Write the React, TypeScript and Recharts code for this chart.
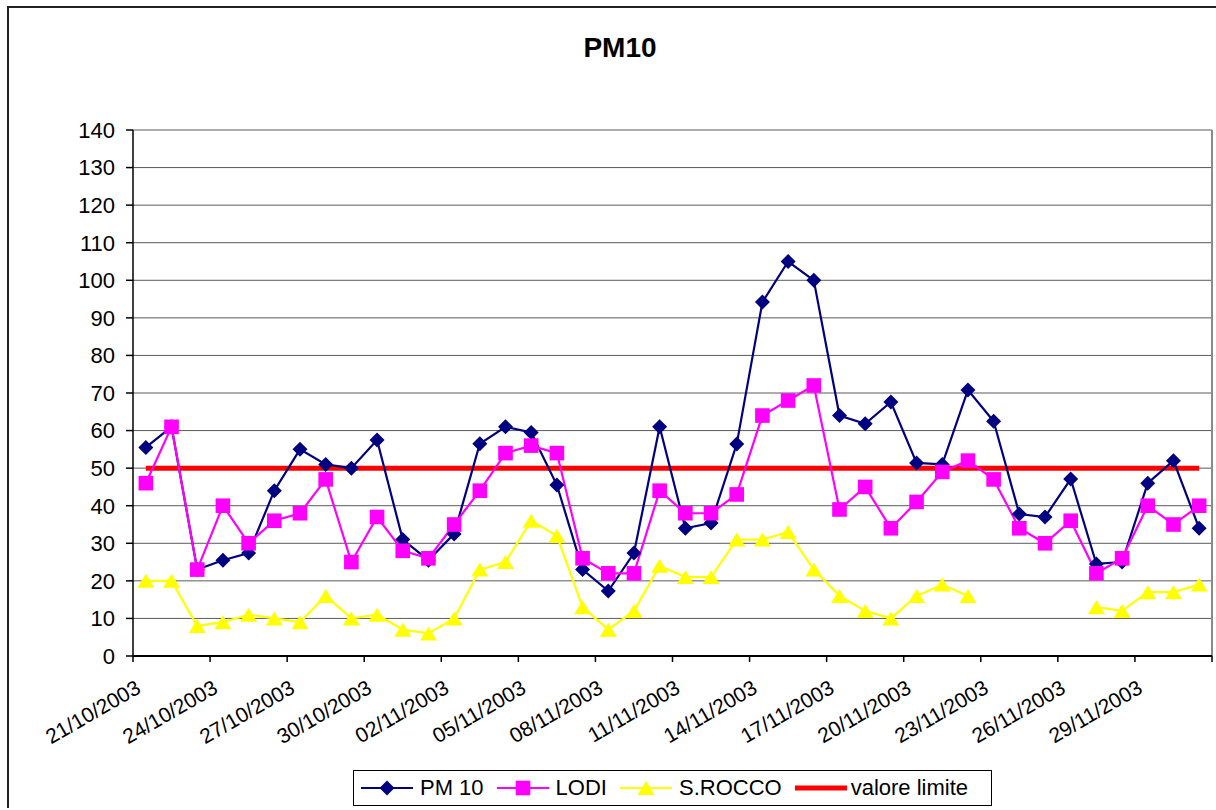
import { LineChart, Line, XAxis, YAxis, CartesianGrid, Legend, ReferenceLine } from 'recharts';

const dates = [
  '21/10/2003', '22/10/2003', '23/10/2003', '24/10/2003', '25/10/2003', '26/10/2003', '27/10/2003',
  '28/10/2003', '29/10/2003', '30/10/2003', '31/10/2003', '01/11/2003', '02/11/2003', '03/11/2003',
  '04/11/2003', '05/11/2003', '06/11/2003', '07/11/2003', '08/11/2003', '09/11/2003', '10/11/2003',
  '11/11/2003', '12/11/2003', '13/11/2003', '14/11/2003', '15/11/2003', '16/11/2003', '17/11/2003',
  '18/11/2003', '19/11/2003', '20/11/2003', '21/11/2003', '22/11/2003', '23/11/2003', '24/11/2003',
  '25/11/2003', '26/11/2003', '27/11/2003', '28/11/2003', '29/11/2003', '30/11/2003', '01/12/2003',
];

const pm10 = [
  55.5, 61, 23, 25.5, 27.4, 44, 55, 51, 50, 57.5, 31, 25.5, 32.5, 56.5,
  61, 59.5, 45.5, 23, 17.3, 27.4, 61, 34, 35.4, 56.4, 94.2, 105, 100, 64,
  61.8, 67.6, 51.4, 51, 70.8, 62.5, 37.8, 37, 47.1, 24.5, 25, 46, 52, 34,
];

const lodi = [
  46, 61, 23, 40, 30, 36, 38, 47, 25, 37, 28, 26, 35, 44,
  54, 56, 54, 26, 22, 22, 44, 38, 38, 43, 64, 68, 72, 39,
  45, 34, 41, 49, 52, 47, 34, 30, 36, 22, 26, 40, 35, 40,
];

const sRocco = [
  20, 20, 8, 9, 11, 10, 9, 16, 10, 11, 7, 6, 10, 23,
  25, 36, 32, 13, 7, 12, 24, 21, 21, 31, 31, 33, 23, 16,
  12, 10, 16, 19, 16, null, null, null, null, 13, 12, 17, 17, 19,
];

const valoreLimite = 50;

const yTicks = [0, 10, 20, 30, 40, 50, 60, 70, 80, 90, 100, 110, 120, 130, 140];
const xTicks = [0, 3, 6, 9, 12, 15, 18, 21, 24, 27, 30, 33, 36, 39, 42];

const NAVY = '#000080';
const MAGENTA = '#FF00FF';
const YELLOW = '#FFFF00';
const RED = '#FF0000';
const FONT = '"Liberation Sans", Arial, sans-serif';

// each day sits in the middle of its slot, like Excel's "between tick marks"
const data = dates.map((d, i) => ({
  day: i + 0.5,
  date: d,
  pm10: pm10[i],
  lodi: lodi[i],
  sRocco: sRocco[i],
  limite: valoreLimite,
}));

const Diamond = ({ cx, cy, fill }: any) => {
  const s = 7.5;
  return <polygon points={`${cx},${cy - s} ${cx + s},${cy} ${cx},${cy + s} ${cx - s},${cy}`} fill={fill} />;
};
const Square = ({ cx, cy, fill }: any) => {
  const s = 7.3;
  return <rect x={cx - s} y={cy - s} width={s * 2} height={s * 2} fill={fill} />;
};
const Triangle = ({ cx, cy, fill }: any) => (
  <polygon points={`${cx},${cy - 7} ${cx + 8.5},${cy + 7} ${cx - 8.5},${cy + 7}`} fill={fill} />
);

const makeDot = (Shape: any, fill: string) => (props: any) => {
  const { cx, cy, value, index } = props;
  if (value == null || cy == null || isNaN(cy)) return <g key={`e-${index}`} />;
  return <Shape key={`m-${index}`} cx={cx} cy={cy} fill={fill} />;
};

const DateTick = ({ x, y, payload }: any) => {
  const label = dates[payload.value] ?? '';
  const ax = x + 9;
  const ay = y + 30;
  return (
    <text x={ax} y={ay} transform={`rotate(-30 ${ax} ${ay})`} textAnchor="end" fontSize={21} fill="#000" fontFamily={FONT}>
      {label}
    </text>
  );
};

const legendItems = [
  { label: 'PM 10', color: NAVY, width: 2, shape: Diamond },
  { label: 'LODI', color: MAGENTA, width: 2, shape: Square },
  { label: 'S.ROCCO', color: YELLOW, width: 2, shape: Triangle },
  { label: 'valore limite', color: RED, width: 5, shape: null },
];

const LegendBox = () => (
  <div
    style={{
      boxSizing: 'border-box',
      width: 639,
      height: 36,
      border: '1px solid #000',
      background: '#fff',
      display: 'flex',
      alignItems: 'center',
      paddingLeft: 7,
      fontFamily: FONT,
      fontSize: 22,
      color: '#000',
      whiteSpace: 'nowrap',
    }}
  >
    {legendItems.map((it) => {
      const Shape = it.shape;
      return (
        <div key={it.label} style={{ display: 'flex', alignItems: 'center', marginRight: 13 }}>
          <svg width={52} height={18} style={{ marginRight: it.shape ? 7 : 4 }}>
            <line x1={0} y1={9} x2={52} y2={9} stroke={it.color} strokeWidth={it.width} strokeLinecap="round" />
            {Shape && <Shape cx={26} cy={9} fill={it.color} />}
          </svg>
          <span>{it.label}</span>
        </div>
      );
    })}
  </div>
);

export default function App() {
  return (
    <div
      style={{
        position: 'absolute',
        top: 6,
        left: 7,
        width: 1207,
        height: 800,
        borderLeft: '2px solid #222',
        borderTop: '2px solid #222',
        fontFamily: FONT,
        background: '#fff',
      }}
    >
      <div
        style={{
          position: 'absolute',
          left: 511,
          top: 26,
          width: 200,
          textAlign: 'center',
          fontSize: 28,
          lineHeight: '28px',
          fontWeight: 'bold',
          color: '#000',
        }}
      >
        PM10
      </div>
      <LineChart width={1207} height={800} data={data} margin={{ top: 122, right: 4, bottom: 52, left: 0 }}>
        <CartesianGrid vertical={false} stroke="#5a5a5a" strokeWidth={1} />
        <XAxis
          type="number"
          dataKey="day"
          domain={[0, 42]}
          ticks={xTicks}
          interval={0}
          height={100}
          tickSize={6}
          tickMargin={0}
          tick={<DateTick />}
          stroke="#000"
          strokeWidth={2}
          tickLine={{ stroke: '#000', strokeWidth: 1.5 }}
        />
        <YAxis
          type="number"
          domain={[0, 140]}
          ticks={yTicks}
          interval={0}
          width={124}
          tickSize={7}
          tickMargin={11}
          stroke="#000"
          strokeWidth={1.5}
          tick={{ fill: '#000', fontSize: 22, fontFamily: FONT }}
        />
        <ReferenceLine x={42} stroke="#8a8a8a" strokeWidth={2} />
        <Legend
          layout="vertical"
          align="center"
          verticalAlign="middle"
          content={<LegendBox />}
          wrapperStyle={{ left: 344, top: 762, width: 639, height: 36 }}
        />
        <Line
          dataKey="limite"
          name="valore limite"
          stroke={RED}
          strokeWidth={5}
          dot={false}
          activeDot={false}
          isAnimationActive={false}
        />
        <Line
          dataKey="pm10"
          name="PM 10"
          stroke={NAVY}
          strokeWidth={2.2}
          dot={makeDot(Diamond, NAVY)}
          activeDot={false}
          isAnimationActive={false}
        />
        <Line
          dataKey="lodi"
          name="LODI"
          stroke={MAGENTA}
          strokeWidth={2.2}
          dot={makeDot(Square, MAGENTA)}
          activeDot={false}
          isAnimationActive={false}
        />
        <Line
          dataKey="sRocco"
          name="S.ROCCO"
          stroke={YELLOW}
          strokeWidth={2.2}
          dot={makeDot(Triangle, YELLOW)}
          activeDot={false}
          isAnimationActive={false}
        />
      </LineChart>
    </div>
  );
}
